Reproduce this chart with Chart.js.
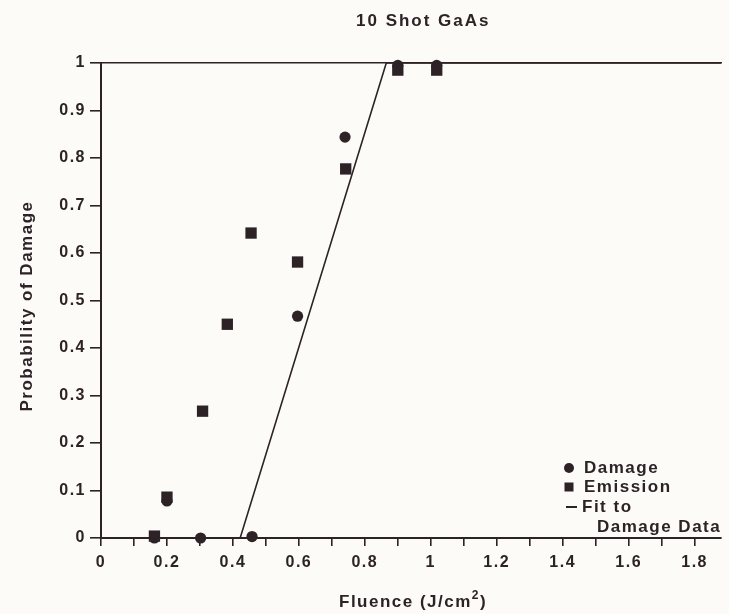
<!DOCTYPE html>
<html>
<head>
<meta charset="utf-8">
<script src="https://cdn.jsdelivr.net/npm/chart.js@4.4.1/dist/chart.umd.min.js"></script>
<style>
    html, body { margin: 0; padding: 0; background: #fcfbf7; }
    #wrap { width: 729px; height: 614px; }
</style>
</head>
<body>
<div id="wrap"><canvas id="chart"></canvas></div>
<script>
// Data
const damageX = [0.162, 0.2, 0.302, 0.458, 0.596, 0.740, 0.900, 1.018];
const damageY = [0.0, 0.078, 0.0, 0.003, 0.467, 0.844, 0.995, 0.995];
const emissionX = [0.162, 0.2, 0.308, 0.383, 0.455, 0.596, 0.742, 0.900, 1.018];
const emissionY = [0.004, 0.086, 0.267, 0.450, 0.642, 0.581, 0.777, 0.985, 0.985];
const fitX = [0, 0.422, 0.865, 1.88];
const fitY = [0, 0, 1, 1];
const xTicks = [0, 0.2, 0.4, 0.6, 0.8, 1, 1.2, 1.4, 1.6, 1.8];
const yTicks = [0, 0.1, 0.2, 0.3, 0.4, 0.5, 0.6, 0.7, 0.8, 0.9, 1];

const ink = '#2d2226';
const fontFamily = '"Liberation Sans", Arial, sans-serif';

function toPoints(xs, ys) {
    return xs.map((x, i) => ({ x: x, y: ys[i] }));
}

// Titles and the in-plot legend, drawn straight on the canvas
const decorations = {
    id: 'decorations',
    beforeDraw(chart) {
        const ctx = chart.ctx;
        ctx.letterSpacing = '1.5px';
        ctx.save();
        ctx.fillStyle = '#fcfbf7';
        ctx.fillRect(0, 0, chart.width, chart.height);
        ctx.restore();
    },
    afterDraw(chart) {
        const ctx = chart.ctx;
        ctx.save();
        ctx.fillStyle = ink;
        ctx.strokeStyle = ink;
        ctx.textBaseline = 'middle';

        // chart title
        ctx.letterSpacing = '2px';
        ctx.font = 'bold 17px ' + fontFamily;
        ctx.textAlign = 'left';
        ctx.fillText('10 Shot GaAs', 356, 21);
        ctx.letterSpacing = '1.5px';

        // x axis title with superscript
        ctx.font = 'bold 17px ' + fontFamily;
        let x = 339;
        const part1 = 'Fluence (J/cm';
        ctx.fillText(part1, x, 602);
        x += ctx.measureText(part1).width;
        ctx.font = 'bold 12px ' + fontFamily;
        ctx.fillText('2', x, 596);
        x += ctx.measureText('2').width;
        ctx.font = 'bold 17px ' + fontFamily;
        ctx.fillText(')', x, 602);

        // y axis title
        ctx.save();
        ctx.translate(27, 306);
        ctx.rotate(-Math.PI / 2);
        ctx.textAlign = 'center';
        ctx.fillText('Probability of Damage', 0, 0);
        ctx.restore();

        // legend
        ctx.beginPath();
        ctx.arc(569, 468, 5, 0, Math.PI * 2);
        ctx.fill();
        ctx.fillRect(564.5, 482.5, 9, 9);
        ctx.lineWidth = 2;
        ctx.beginPath();
        ctx.moveTo(566, 507);
        ctx.lineTo(577, 507);
        ctx.stroke();
        ctx.font = 'bold 17px ' + fontFamily;
        ctx.fillText('Damage', 584, 468);
        ctx.fillText('Emission', 584, 487);
        ctx.fillText('Fit to', 582, 507);
        ctx.fillText('Damage Data', 597, 527);
        ctx.restore();
    }
};

new Chart(document.getElementById('chart'), {
    type: 'scatter',
    data: {
        datasets: [
            {
                label: 'Fit to Damage Data',
                type: 'line',
                data: toPoints(fitX, fitY),
                borderColor: ink,
                borderWidth: 1.6,
                pointRadius: 0,
                fill: false,
                tension: 0,
                clip: 4
            },
            {
                label: 'Emission',
                data: toPoints(emissionX, emissionY),
                pointStyle: 'rect',
                pointRadius: 8,
                backgroundColor: ink,
                borderColor: ink,
                borderWidth: 0,
                clip: 10
            },
            {
                label: 'Damage',
                data: toPoints(damageX, damageY),
                pointStyle: 'circle',
                pointRadius: 5.6,
                backgroundColor: ink,
                borderColor: ink,
                borderWidth: 0,
                clip: 10
            }
        ]
    },
    options: {
        responsive: true,
        maintainAspectRatio: false,
        animation: false,
        layout: { padding: { top: 63, left: 0, right: 0, bottom: 0 } },
        plugins: {
            legend: { display: false },
            title: { display: false },
            tooltip: { enabled: false }
        },
        scales: {
            x: {
                type: 'linear',
                min: 0,
                max: 1.88,
                afterFit: s => { s.height = 76; },
                afterBuildTicks: s => {
                    // minor tick every 0.1, labels on the 0.2 ones
                    const ticks = [];
                    for (let i = 0; i <= 18; i++) ticks.push({ value: i / 10 });
                    s.ticks = ticks;
                },
                ticks: {
                    color: ink,
                    padding: 7,
                    maxRotation: 0,
                    autoSkip: false,
                    font: { family: fontFamily, size: 16, weight: 'bold' },
                    callback: v => {
                        const hit = xTicks.find(t => Math.abs(t - v) < 1e-6);
                        return hit === undefined ? '' : String(hit);
                    }
                },
                grid: {
                    drawOnChartArea: false,
                    color: ink,
                    lineWidth: 1.6,
                    tickLength: 8
                },
                border: { color: ink, width: 2 }
            },
            xTop: {
                type: 'linear',
                position: 'top',
                min: 0,
                max: 1.88,
                afterFit: s => { s.height = 0; },
                ticks: { display: false },
                grid: { display: false },
                border: { display: true, color: ink, width: 1.6 }
            },
            y: {
                min: 0,
                max: 1,
                afterFit: s => { s.width = 101; },
                afterBuildTicks: s => {
                    s.ticks = yTicks.map(v => ({ value: v }));
                },
                ticks: {
                    color: ink,
                    padding: 4,
                    font: { family: fontFamily, size: 16, weight: 'bold' },
                    callback: v => String(+v.toFixed(1))
                },
                grid: {
                    drawOnChartArea: false,
                    color: ink,
                    lineWidth: 1.6,
                    tickLength: 11
                },
                border: { color: ink, width: 2 }
            }
        }
    },
    plugins: [decorations]
});
</script>
</body>
</html>
